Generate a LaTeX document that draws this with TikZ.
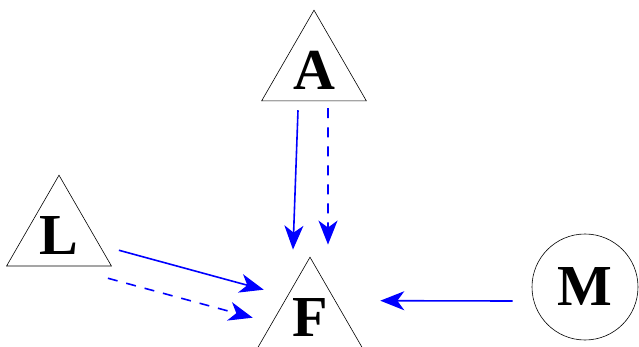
\documentclass[tikz,border=0pt]{standalone}
\usepackage{fontspec}
\setmainfont{Liberation Serif}
\usetikzlibrary{shapes.geometric,arrows.meta,calc}
\definecolor{arrblue}{rgb}{0,0,1}
\tikzset{
  tri/.style={draw=black, line width=0.6pt, regular polygon, regular polygon sides=3, minimum size=121pt, inner sep=-12pt, font=\fontsize{58}{58}\selectfont\bfseries},
  circ/.style={draw=black, line width=0.6pt, circle, minimum size=106pt, inner sep=0pt, font=\fontsize{58}{58}\selectfont\bfseries},
  arr/.style={-{Stealth[length=24pt,width=19pt,inset=7pt]}, arrblue, line width=1.6pt},
  darr/.style={arr, dash pattern=on 10pt off 9pt}
}
\begin{document}
\begin{tikzpicture}[x=1pt,y=-1pt]
                \clip (0,0) rectangle (639,347);
                %Nodes
                \node[tri] (A) at (314,70.7) {A};
                \node[tri] (L) at (59,235.7) {L};
                \node[tri] (F) at (310,317.7) {F};
                \node[circ] (M) at (585,287) {M};
                %A to F
                \draw[arr] ([xshift=-16pt,yshift=-9pt]A.south) -- ([xshift=-17pt,yshift=7pt]F.north);
                \draw[darr] ([xshift=14pt,yshift=-7pt]A.south) -- ([xshift=18pt,yshift=12pt]F.north);
                %L to F
                \draw[arr] ([xshift=7pt,yshift=16pt]L.corner 3) -- ([xshift=-11pt,yshift=28pt]F.west);
                \draw[darr] ([xshift=-4pt,yshift=-12pt]L.corner 3) -- ([xshift=-22pt]F.west);
                %M to F
                \draw[arr] ([xshift=-19pt,yshift=-14pt]M.west) -- ([xshift=35pt,yshift=17pt]F.east);
\end{tikzpicture}
\end{document}
